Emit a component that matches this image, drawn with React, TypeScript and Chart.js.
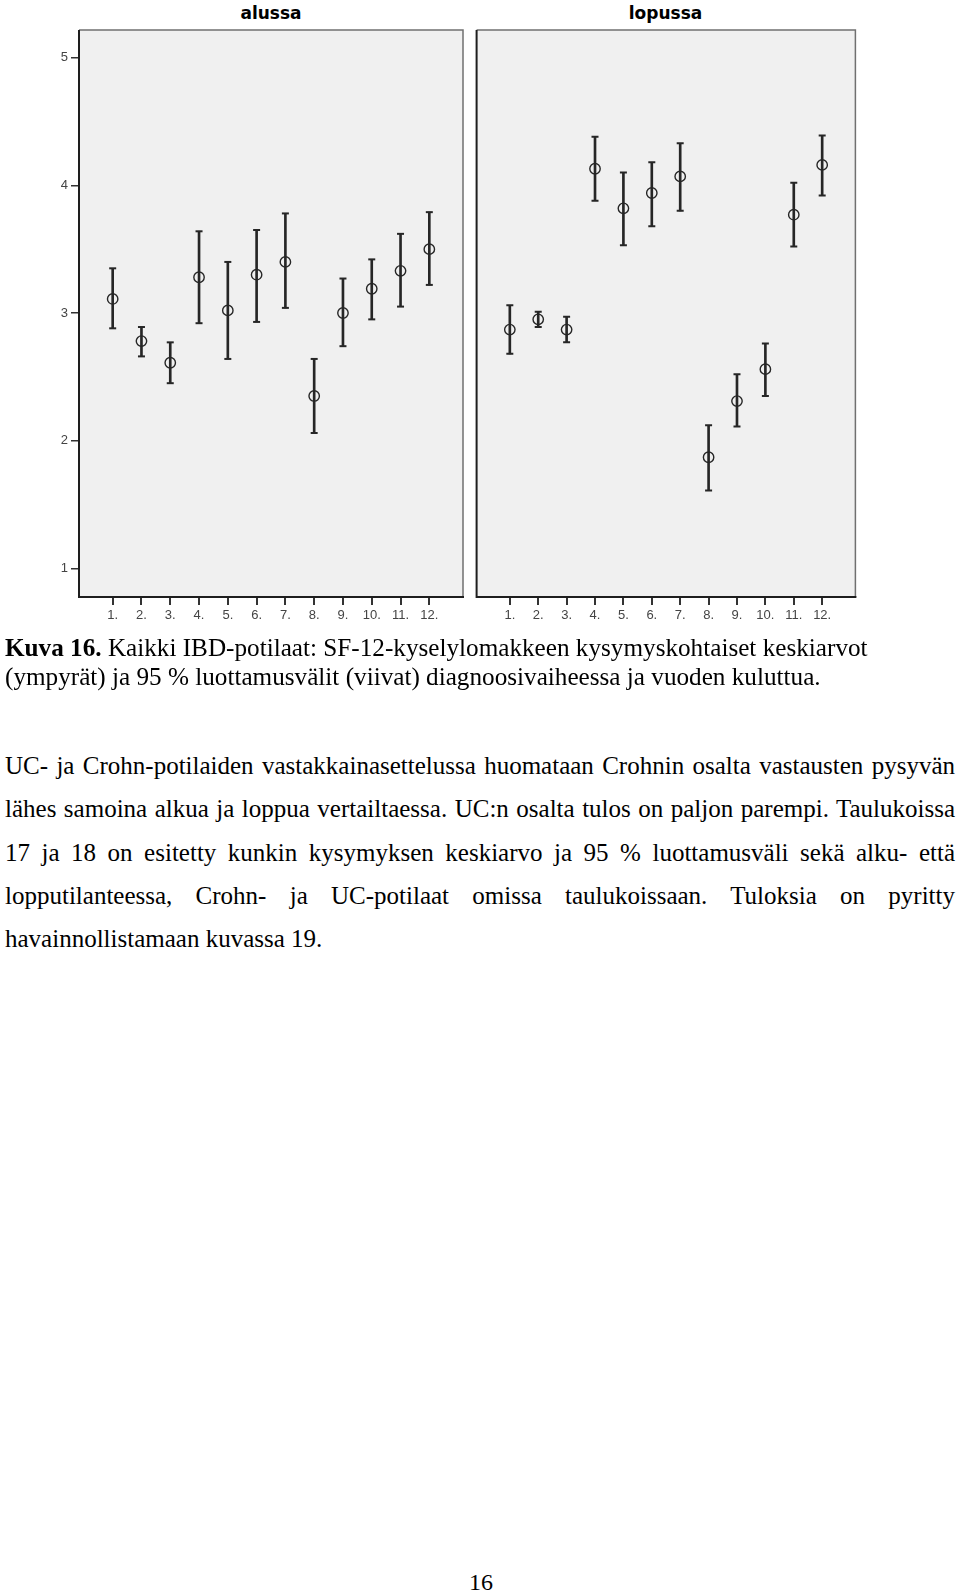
import React, { useEffect, useRef } from "react";
import { Chart, registerables } from "chart.js";

Chart.register(...registerables);

// ---- Data ----
const questionNums = [1, 2, 3, 4, 5, 6, 7, 8, 9, 10, 11, 12];
const questionLabels = ["1.", "2.", "3.", "4.", "5.", "6.", "7.", "8.", "9.", "10.", "11.", "12."];
const yTicks = [1, 2, 3, 4, 5];

const alussaMean = [3.11, 2.78, 2.61, 3.28, 3.02, 3.30, 3.40, 2.35, 3.00, 3.19, 3.33, 3.50];
const alussaLower = [2.88, 2.66, 2.45, 2.92, 2.64, 2.93, 3.04, 2.06, 2.74, 2.95, 3.05, 3.22];
const alussaUpper = [3.35, 2.89, 2.77, 3.64, 3.40, 3.65, 3.78, 2.64, 3.27, 3.42, 3.62, 3.79];

const lopussaMean = [2.87, 2.95, 2.87, 4.13, 3.82, 3.94, 4.07, 1.87, 2.31, 2.56, 3.77, 4.16];
const lopussaLower = [2.68, 2.89, 2.77, 3.88, 3.53, 3.68, 3.80, 1.61, 2.11, 2.35, 3.52, 3.92];
const lopussaUpper = [3.06, 3.01, 2.97, 4.38, 4.10, 4.18, 4.33, 2.12, 2.52, 2.76, 4.02, 4.39];

const panelTitles = ["alussa", "lopussa"];

const Y_MIN = 0.775;
const Y_MAX = 5.217;
const X_MIN = -0.17;
const X_MAX = 13.17;

const INK = "#262626";

const panelBg = {
  id: "panelBg",
  beforeDraw(chart: any) {
    const { ctx, chartArea: a } = chart;
    ctx.save();
    ctx.fillStyle = "#f0f0f0";
    ctx.fillRect(a.left, a.top, a.right - a.left, a.bottom - a.top);
    ctx.restore();
  },
  afterDraw(chart: any) {
    const { ctx, chartArea: a } = chart;
    ctx.save();
    ctx.strokeStyle = "#707070";
    ctx.lineWidth = 1.5;
    ctx.beginPath();
    ctx.moveTo(a.left, a.top);
    ctx.lineTo(a.right, a.top);
    ctx.lineTo(a.right, a.bottom);
    ctx.stroke();
    ctx.strokeStyle = "#1e1e1e";
    ctx.lineWidth = 2;
    ctx.beginPath();
    ctx.moveTo(a.left, a.top);
    ctx.lineTo(a.left, a.bottom);
    ctx.lineTo(a.right + 1, a.bottom);
    ctx.stroke();
    ctx.restore();
  },
};

function makeConfig(mean: number[], lower: number[], upper: number[], showY: boolean, padding: any) {
  const pts = (arr: number[]) => arr.map((v, i) => ({ x: questionNums[i], y: v }));
  return {
    type: "scatter",
    data: {
      datasets: [
        {
          type: "scatter",
          data: pts(mean),
          pointStyle: "circle",
          pointRadius: 5.2,
          pointBorderWidth: 1.4,
          pointBorderColor: INK,
          pointBackgroundColor: "rgba(0,0,0,0)",
        },
        {
          type: "scatter",
          data: [...pts(lower), ...pts(upper)],
          pointStyle: "line",
          pointRadius: 3.5,
          pointBorderWidth: 2,
          pointBorderColor: INK,
        },
        {
          type: "bar",
          data: questionNums.map((q, i) => ({ x: q, y: [lower[i], upper[i]] })),
          barThickness: 2,
          backgroundColor: INK,
          borderWidth: 0,
        },
      ],
    },
    options: {
      animation: false,
      responsive: false,
      events: [],
      layout: { padding },
      plugins: { legend: { display: false }, tooltip: { enabled: false }, title: { display: false } },
      scales: {
        x: {
          type: "linear",
          min: X_MIN,
          max: X_MAX,
          offset: false,
          afterBuildTicks: (s: any) => {
            s.ticks = questionNums.map((v) => ({ value: v }));
          },
          afterFit: (s: any) => {
            s.height = 43;
          },
          border: { display: false },
          grid: { offset: false, drawOnChartArea: false, drawTicks: true, tickLength: 8, color: "#333", lineWidth: 2 },
          ticks: {
            autoSkip: false,
            maxRotation: 0,
            padding: 3,
            color: "#444",
            font: { family: "'Liberation Sans', Arial, sans-serif", size: 13 },
            callback: (_v: any, i: number) => questionLabels[i],
          },
        },
        y: {
          type: "linear",
          display: showY,
          min: Y_MIN,
          max: Y_MAX,
          afterBuildTicks: (s: any) => {
            s.ticks = yTicks.map((v) => ({ value: v }));
          },
          afterFit: (s: any) => {
            s.width = showY ? 79 : 0;
          },
          border: { display: false },
          grid: { drawOnChartArea: false, drawTicks: true, tickLength: 8, color: "#333", lineWidth: 1.5 },
          ticks: {
            padding: 3,
            color: "#444",
            font: { family: "'Liberation Sans', Arial, sans-serif", size: 13 },
            callback: (v: any) => String(v),
          },
        },
      },
    },
    plugins: [panelBg],
  } as any;
}

function Panel(props: { left: number; width: number; mean: number[]; lower: number[]; upper: number[]; showY: boolean; padding: any }) {
  const ref = useRef<HTMLCanvasElement | null>(null);
  useEffect(() => {
    if (!ref.current) return;
    const chart = new Chart(ref.current, makeConfig(props.mean, props.lower, props.upper, props.showY, props.padding));
    return () => chart.destroy();
  }, []);
  return (
    <div style={{ position: "absolute", left: props.left, top: 0, width: props.width, height: 640 }}>
      <canvas ref={ref} width={props.width} height={640} style={{ width: props.width, height: 640, display: "block" }} />
    </div>
  );
}

const titleStyle: React.CSSProperties = {
  position: "absolute",
  top: 3,
  height: 20,
  lineHeight: "20px",
  textAlign: "center",
  fontFamily: "'DejaVu Sans', sans-serif",
  fontWeight: "bold",
  fontSize: 17,
  color: "#000",
};

const justifyLine: React.CSSProperties = {
  textAlign: "justify",
  textAlignLast: "justify" as any,
  whiteSpace: "nowrap",
  height: 43.3,
};

export default function App() {
  return (
    <div
      style={{
        position: "absolute",
        left: 0,
        top: 0,
        width: 960,
        height: 1594,
        overflow: "hidden",
        background: "#fff",
        fontFamily: "'Liberation Serif', 'Times New Roman', serif",
        color: "#000",
      }}
    >
      <div style={{ ...titleStyle, left: 79, width: 384 }}>{panelTitles[0]}</div>
      <div style={{ ...titleStyle, left: 473, width: 385 }}>{panelTitles[1]}</div>

      <Panel left={0} width={470} mean={alussaMean} lower={alussaLower} upper={alussaUpper} showY={true}
        padding={{ top: 30, right: 7, left: 0, bottom: 0 }} />
      <Panel left={470} width={392} mean={lopussaMean} lower={lopussaLower} upper={lopussaUpper} showY={false}
        padding={{ top: 30, right: 4, left: 3, bottom: 0 }} />

      <div style={{ position: "absolute", left: 5, top: 633, fontSize: 25.2, lineHeight: "29px", whiteSpace: "nowrap" }}>
        <b>Kuva 16.</b> Kaikki IBD-potilaat: SF-12-kyselylomakkeen kysymyskohtaiset keskiarvot
        <br />
        (ympyrät) ja 95 % luottamusvälit (viivat) diagnoosivaiheessa ja vuoden kuluttua.
      </div>

      <div style={{ position: "absolute", left: 5, top: 744, width: 950, fontSize: 25, lineHeight: "43.3px" }}>
        <div style={justifyLine}>UC- ja Crohn-potilaiden vastakkainasettelussa huomataan Crohnin osalta vastausten pysyvän</div>
        <div style={justifyLine}>lähes samoina alkua ja loppua vertailtaessa. UC:n osalta tulos on paljon parempi. Taulukoissa</div>
        <div style={justifyLine}>17 ja 18 on esitetty kunkin kysymyksen keskiarvo ja 95 % luottamusväli sekä alku- että</div>
        <div style={justifyLine}>lopputilanteessa, Crohn- ja UC-potilaat omissa taulukoissaan. Tuloksia on pyritty</div>
        <div style={{ whiteSpace: "nowrap", height: 43.3 }}>havainnollistamaan kuvassa 19.</div>
      </div>

      <div style={{ position: "absolute", left: 441, top: 1568, width: 80, textAlign: "center", fontSize: 24, lineHeight: "28px" }}>
        16
      </div>
    </div>
  );
}
